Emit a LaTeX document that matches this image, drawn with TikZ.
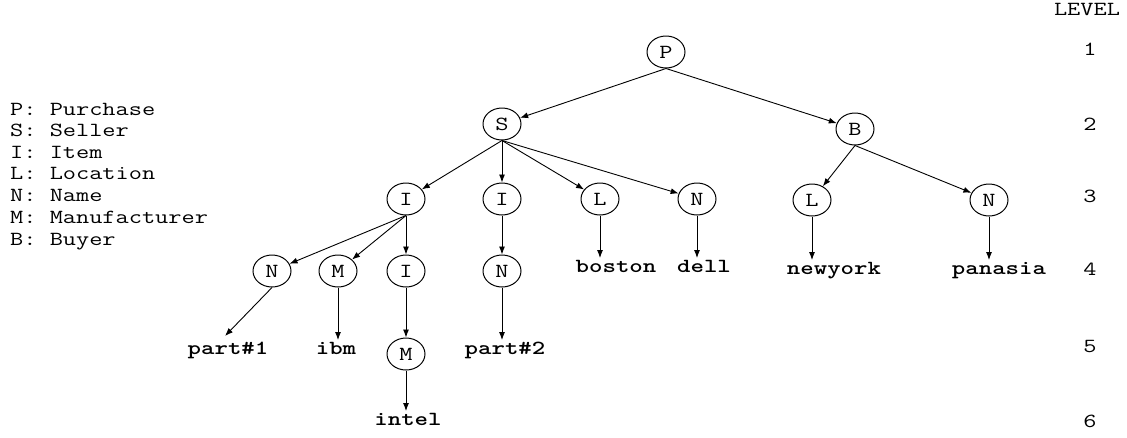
\documentclass[tikz,border=0pt]{standalone}
\usepackage{graphicx}
\usetikzlibrary{arrows.meta,shapes.geometric}
\newcommand\tx[1]{\scalebox{1.28}[1]{#1}}
\begin{document}
\begin{tikzpicture}[x=1pt,y=-1pt,
 every node/.style={font=\ttfamily\fontsize{20}{22}\selectfont},
 vtx/.style={ellipse,draw,line width=1pt,minimum width=38pt,minimum height=32pt,inner sep=0pt},
 leaf/.style={font=\ttfamily\bfseries\fontsize{20}{22}\selectfont,inner xsep=3pt,inner ysep=8pt,text height=1.5ex,text depth=0.25ex},
 lab/.style={anchor=west,inner sep=0pt,text height=1.5ex,text depth=0.25ex},
 lev/.style={inner sep=0pt,text height=1.5ex,text depth=0.25ex},
 edge/.style={line width=0.9pt,-{Latex[length=8pt,width=6pt]}}
]
\useasboundingbox (0,0) rectangle (1127,437);
% legend
\node[lab] (k1) at (10,113) {\tx{P: Purchase}};
\node[lab] (k2) at (10,134) {\tx{S: Seller}};
\node[lab] (k3) at (10,156) {\tx{I: Item}};
\node[lab] (k4) at (10,177) {\tx{L: Location}};
\node[lab] (k5) at (10,199) {\tx{N: Name}};
\node[lab] (k6) at (10,221) {\tx{M: Manufacturer}};
\node[lab] (k7) at (10,243) {\tx{B: Buyer}};
% levels
\node[lev] (lv) at (1087,13) {\tx{LEVEL}};
\node[lev] (l1) at (1090,53) {\tx{1}};
\node[lev] (l2) at (1090,128) {\tx{2}};
\node[lev] (l3) at (1090,200) {\tx{3}};
\node[lev] (l4) at (1090,273) {\tx{4}};
\node[lev] (l5) at (1090,350) {\tx{5}};
\node[lev] (l6) at (1090,425) {\tx{6}};
% tree nodes
\node[vtx] (P) at (666,52) {\tx{P}};
\node[vtx] (S) at (502,124) {\tx{S}};
\node[vtx] (B) at (855,129) {\tx{B}};
\node[vtx] (I3a) at (406,199) {\tx{I}};
\node[vtx] (I3b) at (502,199) {\tx{I}};
\node[vtx] (L3a) at (600,199) {\tx{L}};
\node[vtx] (N3a) at (697,199) {\tx{N}};
\node[vtx] (L3b) at (812,200) {\tx{L}};
\node[vtx] (N3b) at (989,200) {\tx{N}};
\node[vtx] (N4) at (272,271) {\tx{N}};
\node[vtx] (M4) at (338,271) {\tx{M}};
\node[vtx] (I4) at (406,271) {\tx{I}};
\node[vtx] (N4b) at (502,271) {\tx{N}};
\node[vtx] (M5) at (406,354) {\tx{M}};
% leaves
\node[leaf] (boston) at (616,270) {\tx{boston}};
\node[leaf] (dell) at (704,270) {\tx{dell}};
\node[leaf] (newyork) at (834,272) {\tx{newyork}};
\node[leaf] (panasia) at (999,272) {\tx{panasia}};
\node[leaf] (part1) at (228,352) {\tx{part\#1}};
\node[leaf] (ibm) at (336,352) {\tx{ibm}};
\node[leaf] (part2) at (505,352) {\tx{part\#2}};
\node[leaf] (intel) at (408,423) {\tx{intel}};
\coordinate (p1tip) at (225,336);
% edges
\draw[edge] (P.south) -- (S);
\draw[edge] (P.south) -- (B);
\draw[edge] (S.south) -- (I3a);
\draw[edge] (S.south) -- (I3b);
\draw[edge] (S.south) -- (L3a);
\draw[edge] (S.south) -- (N3a);
\draw[edge] (B.south) -- (L3b);
\draw[edge] (B.south) -- (N3b);
\draw[edge] (I3a.south) -- (N4);
\draw[edge] (I3a.south) -- (M4);
\draw[edge] (I3a.south) -- (I4);
\draw[edge] (I3b.south) -- (N4b);
\draw[edge] (I4.south) -- (M5);
\draw[edge] (N4.south) -- (p1tip);
\draw[edge] (L3a.south) -- (L3a.south |- boston.north);
\draw[edge] (N3a.south) -- (N3a.south |- dell.north);
\draw[edge] (L3b.south) -- (L3b.south |- newyork.north);
\draw[edge] (N3b.south) -- (N3b.south |- panasia.north);
\draw[edge] (M4.south) -- (M4.south |- ibm.north);
\draw[edge] (N4b.south) -- (N4b.south |- part2.north);
\draw[edge] (M5.south) -- (M5.south |- intel.north);
\end{tikzpicture}
\end{document}
